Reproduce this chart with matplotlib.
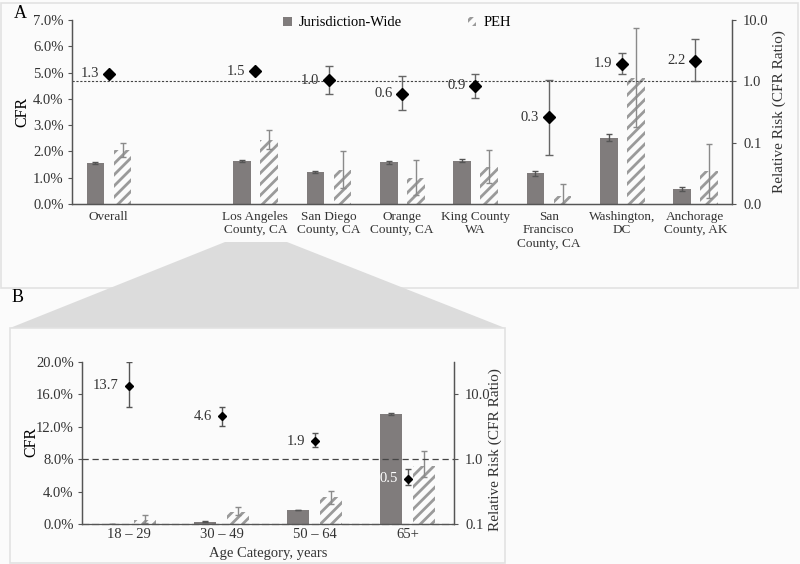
import numpy as np
import matplotlib
matplotlib.use("Agg")
import matplotlib.pyplot as plt
from matplotlib.patches import Patch, Rectangle, Polygon

plt.rcParams['font.family'] = ['serif']
plt.rcParams['font.serif'] = ['Liberation Serif', 'DejaVu Serif']
plt.rcParams['hatch.linewidth'] = 2.0

nan = np.nan

# panel A: jurisdictions (index 1 is an empty spacer slot)
places = ['Overall', '', 'Los Angeles\nCounty, CA', 'San Diego\nCounty, CA',
          'Orange\nCounty, CA', 'King County\nWA', 'San\nFrancisco\nCounty, CA',
          'Washington,\nDC', 'Anchorage\nCounty, AK']
jw_cfr = [1.56, nan, 1.65, 1.22, 1.58, 1.65, 1.17, 2.52, 0.57]
jw_lo = [1.52, nan, 1.61, 1.17, 1.53, 1.58, 1.07, 2.40, 0.50]
jw_hi = [1.60, nan, 1.69, 1.27, 1.63, 1.72, 1.27, 2.65, 0.65]
peh_cfr = [2.04, nan, 2.42, 1.30, 1.00, 1.42, 0.30, 4.78, 1.27]
peh_lo = [1.80, nan, 2.08, 0.62, 0.35, 0.80, 0.00, 2.94, 0.22]
peh_hi = [2.32, nan, 2.80, 2.00, 1.67, 2.05, 0.75, 6.70, 2.30]
rr = [1.33, nan, 1.47, 1.05, 0.63, 0.85, 0.26, 1.94, 2.17]
rr_lo = [1.30, nan, 1.42, 0.61, 0.34, 0.54, 0.064, 1.30, 1.00]
rr_hi = [1.37, nan, 1.53, 1.78, 1.20, 1.34, 1.04, 2.90, 4.97]
rr_txt = ['1.3', '', '1.5', '1.0', '0.6', '0.9', '0.3', '1.9', '2.2']

# panel B: Los Angeles by age
ages = ['18 – 29', '30 – 49', '50 – 64', '65+']
jw_b = [0.03, 0.30, 1.73, 13.6]
jw_b_lo = [0.02, 0.27, 1.68, 13.45]
jw_b_hi = [0.04, 0.33, 1.78, 13.75]
peh_b = [0.50, 1.52, 3.30, 7.15]
peh_b_lo = [0.10, 1.10, 2.50, 5.80]
peh_b_hi = [1.10, 2.05, 4.10, 9.05]
rr_b = [13.7, 4.6, 1.9, 0.5]
rr_b_lo = [6.3, 3.3, 1.52, 0.40]
rr_b_hi = [32.0, 6.5, 2.5, 0.70]
rr_b_txt = ['13.7', '4.6', '1.9', '0.5']

W, H = 800, 564
BAR = '#807c7c'
HATCH = '#9a9a9a'
ERR = '#8a8a8a'
SPINE = '#555555'


def px_axes(fig, left, right, top, bottom):
    return fig.add_axes([left / W, 1 - bottom / H, (right - left) / W, (bottom - top) / H])


def yerr(v, lo, hi):
    v, lo, hi = np.array(v), np.array(lo), np.array(hi)
    return np.vstack([v - lo, hi - v])


def style(ax, ax2):
    for a in (ax, ax2):
        a.set_facecolor('none')
        a.spines['top'].set_visible(False)
        for s in ('left', 'right', 'bottom'):
            a.spines[s].set_color(SPINE)
            a.spines[s].set_linewidth(0.9)
    ax.tick_params(axis='y', labelsize=10.5, length=3, color=SPINE, pad=3, labelcolor='#333333')
    ax.tick_params(axis='x', length=0, labelsize=9.5, pad=5, labelcolor='#333333')
    ax2.tick_params(axis='y', which='both', labelsize=10.5, length=3, color=SPINE, pad=5,
                    labelcolor='#333333')
    ax2.tick_params(axis='y', which='minor', length=0)


fig = plt.figure(figsize=(W / 100, H / 100), dpi=100)
fig.patch.set_facecolor('#fbfbfb')

# frames and zoom wedge
fig.patches.append(Rectangle((1 / W, 1 - 288 / H), 797 / W, 285 / H, transform=fig.transFigure,
                             fill=False, edgecolor='#e2e2e2', lw=1.2))
fig.patches.append(Polygon([(225 / W, 1 - 242 / H), (287 / W, 1 - 242 / H), (505 / W, 1 - 328 / H),
                            (10 / W, 1 - 328 / H)], closed=True, transform=fig.transFigure,
                           facecolor='#dcdcdc', edgecolor='none'))
fig.patches.append(Rectangle((10 / W, 1 - 563 / H), 495 / W, 235 / H, transform=fig.transFigure,
                             fill=False, edgecolor='#e2e2e2', lw=1.2))

# ---------- panel A ----------
ax = px_axes(fig, 72, 732, 20, 204)
ax2 = ax.twinx()
x = np.arange(len(places))
bw = 0.24
ax.bar(x - 0.18, jw_cfr, bw, color=BAR, yerr=yerr(jw_cfr, jw_lo, jw_hi),
       error_kw=dict(ecolor='#555555', elinewidth=1, capsize=2, capthick=1))
ax.bar(x + 0.19, peh_cfr, bw, color='none', edgecolor=HATCH, hatch='///', lw=0,
       yerr=yerr(peh_cfr, peh_lo, peh_hi),
       error_kw=dict(ecolor=ERR, elinewidth=1, capsize=2, capthick=1))
ax.set_xlim(-0.5, len(places) - 0.5)
ax.set_ylim(0, 7)
ax.set_yticks(np.arange(0, 8))
ax.set_yticklabels(['%.1f%%' % v for v in range(8)])
ax.set_xticks(x)
ax.set_xticklabels(places, linespacing=1.15)

ax2.set_yscale('log')
ax2.set_ylim(0.01, 10)
ax2.axhline(1, color='#444444', lw=0.8, dashes=(2, 1.5))
ax2.errorbar(x, rr, yerr=yerr(rr, rr_lo, rr_hi), fmt='D', color='black', ms=6,
             ecolor='#666666', elinewidth=1, capsize=3, capthick=1)
for xi, v, t in zip(x, rr, rr_txt):
    if t:
        ax2.annotate(t, (xi, v), xytext=(-7, 0), textcoords='offset points',
                     ha='right', va='center', fontsize=10.5, color='#333333')
ax2.set_yticks([0.01, 0.1, 1, 10])
ax2.set_yticklabels(['0.0', '0.1', '1.0', '10.0'])
style(ax, ax2)

fig.text(22 / W, 1 - 112 / H, 'CFR', rotation=90, ha='center', va='center', fontsize=11.5)
fig.text(779 / W, 1 - 112 / H, 'Relative Risk (CFR Ratio)', rotation=90, ha='center',
         va='center', fontsize=11, color='#333333')
fig.text(20 / W, 1 - 13 / H, 'A', ha='center', va='center', fontsize=13)

handles = [Patch(facecolor=BAR, edgecolor='none', label='Jurisdiction-Wide'),
           Patch(facecolor='none', edgecolor=HATCH, hatch='///', lw=0, label='PEH')]
fig.legend(handles=handles, loc='center', bbox_to_anchor=(397 / W, 1 - 23 / H), ncol=2,
           frameon=False, fontsize=10.5, handlelength=0.6, handleheight=0.6,
           handletextpad=0.5, columnspacing=4.5)

# ---------- panel B ----------
bx = px_axes(fig, 82, 454, 362, 524)
bx2 = bx.twinx()
xb = np.arange(len(ages))
bwb = 0.235
bx.bar(xb - 0.18, jw_b, bwb, color=BAR, yerr=yerr(jw_b, jw_b_lo, jw_b_hi),
       error_kw=dict(ecolor='#555555', elinewidth=1, capsize=2, capthick=1))
bx.bar(xb + 0.18, peh_b, bwb, color='none', edgecolor=HATCH, hatch='///', lw=0,
       yerr=yerr(peh_b, peh_b_lo, peh_b_hi),
       error_kw=dict(ecolor=ERR, elinewidth=1, capsize=2, capthick=1))
bx.set_xlim(-0.5, len(ages) - 0.5)
bx.set_ylim(0, 20)
bx.set_yticks(np.arange(0, 21, 4))
bx.set_yticklabels(['%.1f%%' % v for v in range(0, 21, 4)])
bx.set_xticks(xb)
bx.set_xticklabels(ages)

bx2.set_yscale('log')
bx2.set_ylim(0.1, 10 ** 1.5)
bx2.axhline(1, color='#444444', lw=0.9, dashes=(5, 3))
bx2.errorbar(xb, rr_b, yerr=yerr(rr_b, rr_b_lo, rr_b_hi), fmt='D', color='black', ms=4.5,
             ecolor='#555555', elinewidth=1, capsize=2, capthick=1)
for xi, v, t in zip(xb, rr_b, rr_b_txt):
    col = 'white' if t == '0.5' else '#333333'
    bx2.annotate(t, (xi, v), xytext=(-7, 0), textcoords='offset points',
                 ha='right', va='center', fontsize=10.5, color=col)
bx2.set_yticks([0.1, 1, 10])
bx2.set_yticklabels(['0.1', '1.0', '10.0'])
style(bx, bx2)
bx.tick_params(axis='x', labelsize=10.5, pad=3)
bx.spines['bottom'].set_linestyle((0, (5, 3)))

fig.text(268 / W, 1 - 553 / H, 'Age Category, years', ha='center', va='center', fontsize=10.5,
         color='#333333')
fig.text(31 / W, 1 - 442 / H, 'CFR', rotation=90, ha='center', va='center', fontsize=11.5)
fig.text(495 / W, 1 - 450 / H, 'Relative Risk (CFR Ratio)', rotation=90, ha='center',
         va='center', fontsize=11, color='#333333')
fig.text(18 / W, 1 - 298 / H, 'B', ha='center', va='center', fontsize=13)

fig.savefig('out.png', dpi=100, facecolor=fig.get_facecolor())
